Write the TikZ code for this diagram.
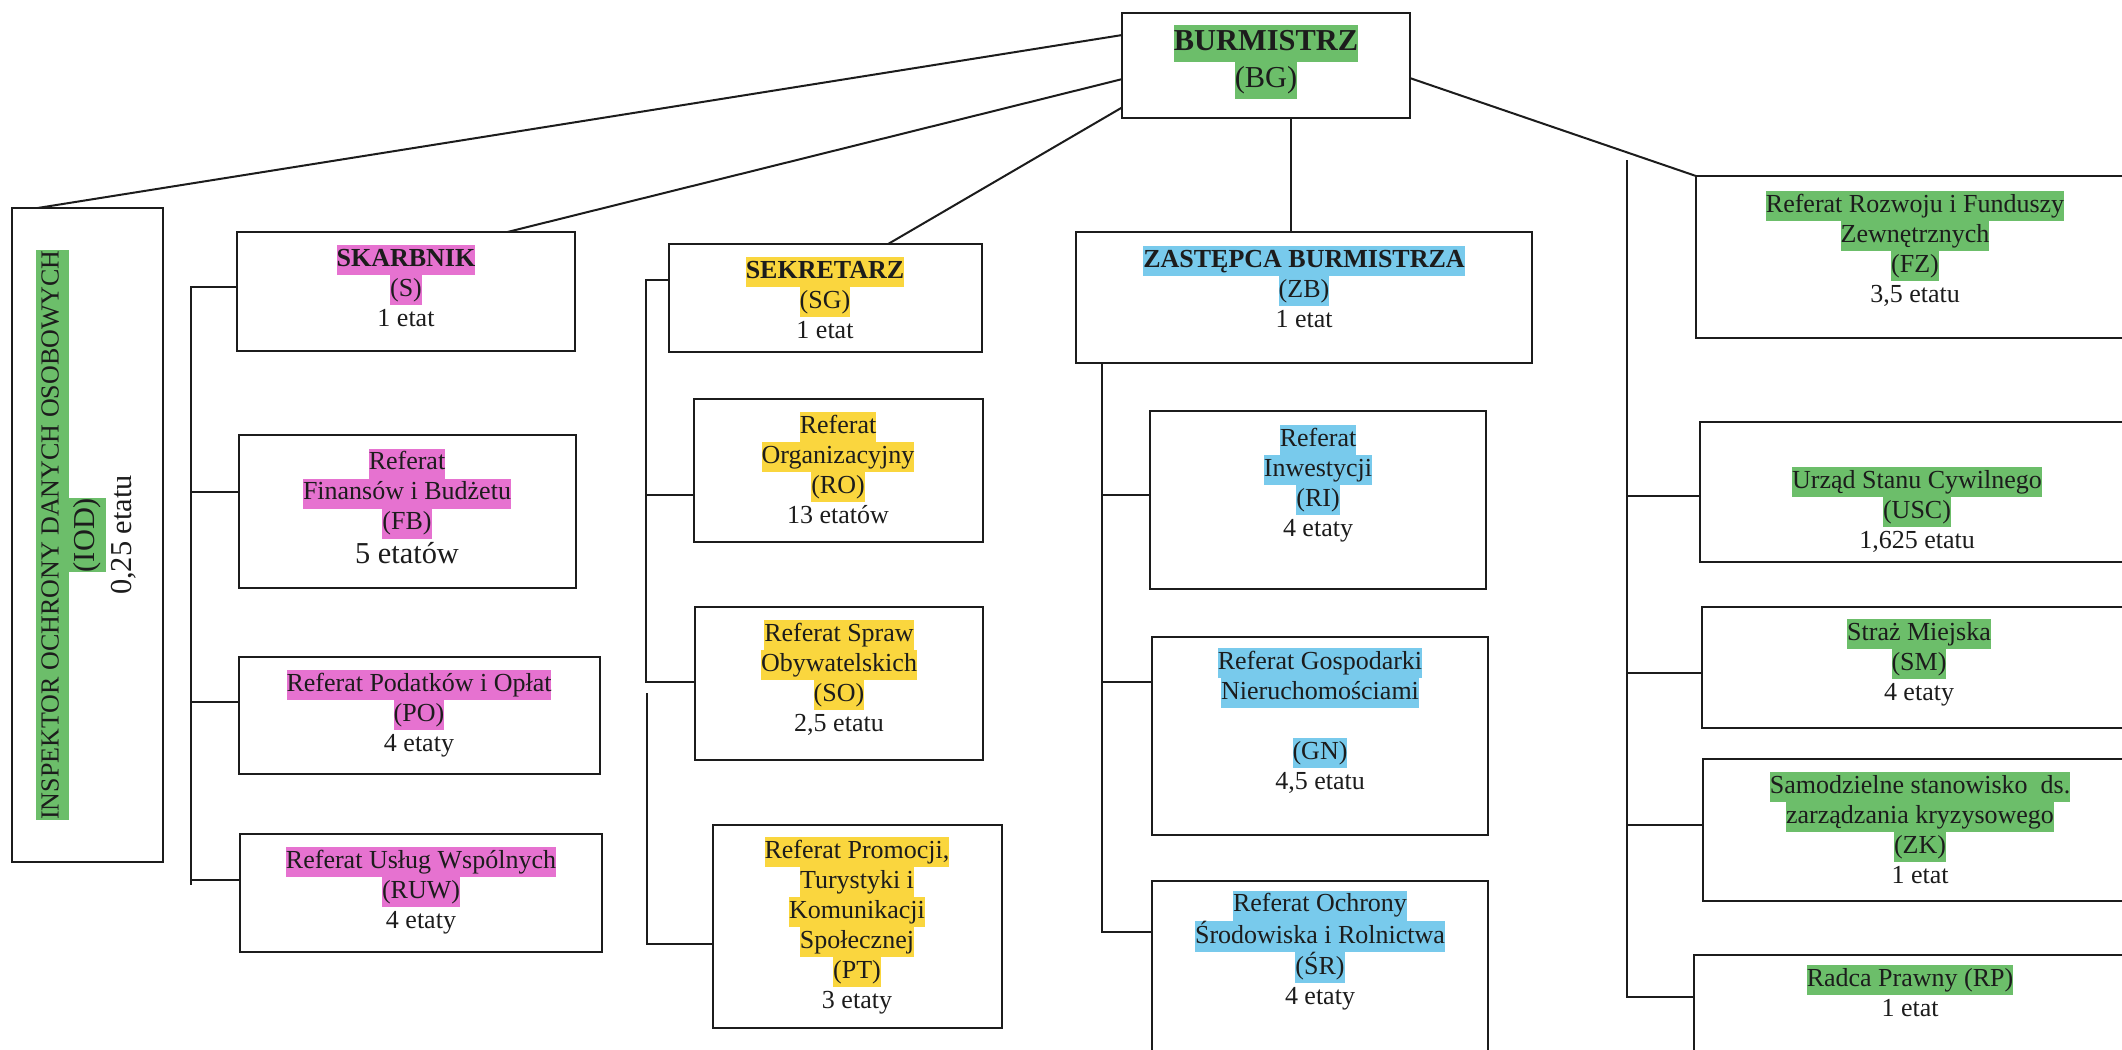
\documentclass[tikz,border=0pt]{standalone}
\usepackage{fontspec}
\setmainfont{Liberation Serif}
\usetikzlibrary{calc}
\definecolor{hgreen}{RGB}{108,190,106}
\definecolor{hpink}{RGB}{230,114,208}
\definecolor{hyellow}{RGB}{250,214,62}
\definecolor{hcyan}{RGB}{120,202,236}
\definecolor{ink}{RGB}{28,28,28}
\newcommand{\hlt}[2]{{\setlength{\fboxsep}{0pt}\colorbox{#1}{\strut #2}}}
\newcommand{\bx}[5]{\node[box, minimum width={#4-#2}, minimum height={#5-#3}] (#1) at ({(#2+#4)/2},{(#3+#5)/2}) {};}
\tikzset{
  box/.style={draw=ink, line width=2pt, rectangle, inner sep=0pt, outer sep=0pt},
  txt/.style={align=center, inner sep=0pt, text=ink, font={\fontsize{26}{30}\selectfont\lineskip=0pt}},
  con/.style={draw=ink, line width=2pt}
}
\begin{document}
\begin{tikzpicture}[x=1pt,y=-1pt]
\useasboundingbox (0,0) rectangle (2122,1049);
\clip (0,0) rectangle (2122,1049);
\fill[white] (0,0) rectangle (2122,1049);

% boxes
\bx{BG}{1122}{13}{1410}{118}
\bx{IOD}{12}{208}{163}{862}
\bx{S}{237}{232}{575}{351}
\bx{FB}{239}{435}{576}{588}
\bx{PO}{239}{657}{600}{774}
\bx{RUW}{240}{834}{602}{952}
\bx{SG}{669}{244}{982}{352}
\bx{RO}{694}{399}{983}{542}
\bx{SO}{695}{607}{983}{760}
\bx{PT}{713}{825}{1002}{1028}
\bx{ZB}{1076}{232}{1532}{363}
\bx{RI}{1150}{411}{1486}{589}
\bx{GN}{1152}{637}{1488}{835}
\bx{SR}{1152}{881}{1488}{1110}
\bx{FZ}{1696}{176}{2140}{338}
\bx{USC}{1700}{422}{2140}{562}
\bx{SM}{1702}{607}{2140}{728}
\bx{ZK}{1703}{759}{2140}{901}
\bx{RP}{1694}{955}{2140}{1110}

% texts
\node[txt, font={\fontsize{30.4}{37}\selectfont\lineskip=0pt}] (tBG) at (1266,62) {\hlt{hgreen}{\textbf{BURMISTRZ}}\\\hlt{hgreen}{(BG)}};
\node[txt, rotate=90, font={\fontsize{26}{33}\selectfont\lineskip=0pt}] (tIOD) at (89,535) {\hlt{hgreen}{INSPEKTOR OCHRONY DANYCH OSOBOWYCH}\\{\fontsize{30.4}{37}\selectfont\hlt{hgreen}{(IOD)}}\\{\fontsize{30.4}{37}\selectfont\strut 0,25 etatu}};

\node[txt] (tS) at (406,290) {\hlt{hpink}{\textbf{SKARBNIK}}\\\hlt{hpink}{(S)}\\\strut 1 etat};
\node[txt] (tFB) at (407,511) {\hlt{hpink}{Referat}\\\hlt{hpink}{Finansów i Budżetu}\\\hlt{hpink}{(FB)}\\{\fontsize{30.4}{35}\selectfont\strut 5 etatów}};
\node[txt] (tPO) at (419,715) {\hlt{hpink}{Referat Podatków i Opłat}\\\hlt{hpink}{(PO)}\\\strut 4 etaty};
\node[txt] (tRUW) at (421,892) {\hlt{hpink}{Referat Usług Wspólnych}\\\hlt{hpink}{(RUW)}\\\strut 4 etaty};

\node[txt] (tSG) at (825,302) {\hlt{hyellow}{\textbf{SEKRETARZ}}\\\hlt{hyellow}{(SG)}\\\strut 1 etat};
\node[txt] (tRO) at (838,472) {\hlt{hyellow}{Referat}\\\hlt{hyellow}{Organizacyjny}\\\hlt{hyellow}{(RO)}\\\strut 13 etatów};
\node[txt] (tSO) at (839,680) {\hlt{hyellow}{Referat Spraw}\\\hlt{hyellow}{Obywatelskich}\\\hlt{hyellow}{(SO)}\\\strut 2,5 etatu};
\node[txt] (tPT) at (857,927) {\hlt{hyellow}{Referat Promocji,}\\\hlt{hyellow}{Turystyki i}\\\hlt{hyellow}{Komunikacji}\\\hlt{hyellow}{Społecznej}\\\hlt{hyellow}{(PT)}\\\strut 3 etaty};

\node[txt] (tZB) at (1304,291) {\hlt{hcyan}{\textbf{ZASTĘPCA BURMISTRZA}}\\\hlt{hcyan}{(ZB)}\\\strut 1 etat};
\node[txt] (tRI) at (1318,485) {\hlt{hcyan}{Referat}\\\hlt{hcyan}{Inwestycji}\\\hlt{hcyan}{(RI)}\\\strut 4 etaty};
\node[txt] (tGN) at (1320,723) {\hlt{hcyan}{Referat Gospodarki}\\\hlt{hcyan}{Nieruchomościami}\\\strut\\\hlt{hcyan}{(GN)}\\\strut 4,5 etatu};
\node[txt] (tSR) at (1320,952) {\hlt{hcyan}{Referat Ochrony}\\\hlt{hcyan}{Środowiska i Rolnictwa}\\\hlt{hcyan}{(ŚR)}\\\strut 4 etaty};

\node[txt] (tFZ) at (1915,251) {\hlt{hgreen}{Referat Rozwoju i Funduszy}\\\hlt{hgreen}{Zewnętrznych}\\\hlt{hgreen}{(FZ)}\\\strut 3,5 etatu};
\node[txt] (tUSC) at (1917,512) {\hlt{hgreen}{Urząd Stanu Cywilnego}\\\hlt{hgreen}{(USC)}\\\strut 1,625 etatu};
\node[txt] (tSM) at (1919,664) {\hlt{hgreen}{Straż Miejska}\\\hlt{hgreen}{(SM)}\\\strut 4 etaty};
\node[txt] (tZK) at (1920,832) {\hlt{hgreen}{Samodzielne stanowisko~ ds.}\\\hlt{hgreen}{zarządzania kryzysowego}\\\hlt{hgreen}{(ZK)}\\\strut 1 etat};
\node[txt] (tRP) at (1910,995) {\hlt{hgreen}{Radca Prawny (RP)}\\\strut 1 etat};

% connectors from BG
\draw[con] ($(BG.north west)!0.21!(BG.south west)$) -- ($(IOD.north west)!0.17!(IOD.north east)$);
\draw[con] ($(BG.north west)!0.63!(BG.south west)$) -- ($(S.north west)!0.80!(S.north east)$);
\draw[con] ($(BG.north west)!0.90!(BG.south west)$) -- ($(SG.north west)!0.70!(SG.north east)$);
\draw[con] ($(BG.south west)!0.587!(BG.south east)$) coordinate (bgb) -- (bgb |- ZB.north);
\draw[con] ($(BG.north east)!0.62!(BG.south east)$) -- (FZ.north west);

% Skarbnik bracket
\coordinate (sA) at (191,287);
\coordinate (sB) at (191,492);
\coordinate (sC) at (191,702);
\coordinate (sD) at (191,880);
\coordinate (sE) at (191,885);
\draw[con] (sA -| S.west) -- (sA) -- (sE);
\draw[con] (sB) -- (sB -| FB.west);
\draw[con] (sC) -- (sC -| PO.west);
\draw[con] (sD) -- (sD -| RUW.west);

% Sekretarz bracket
\coordinate (gA) at (646,280);
\coordinate (gB) at (646,495);
\coordinate (gC) at (646,682);
\coordinate (gD) at (647,693);
\coordinate (gE) at (647,944);
\draw[con] (gA -| SG.west) -- (gA) -- (gC) -- (gC -| SO.west);
\draw[con] (gB) -- (gB -| RO.west);
\draw[con] (gD) -- (gE) -- (gE -| PT.west);

% Zastepca bracket
\coordinate (zA) at (1102,363);
\coordinate (zB) at (1102,495);
\coordinate (zC) at (1102,682);
\coordinate (zD) at (1102,932);
\draw[con] (zA) -- (zD) -- (zD -| SR.west);
\draw[con] (zB) -- (zB -| RI.west);
\draw[con] (zC) -- (zC -| GN.west);

% right bracket
\coordinate (rA) at (1627,160);
\coordinate (rB) at (1627,496);
\coordinate (rC) at (1627,673);
\coordinate (rD) at (1627,825);
\coordinate (rE) at (1627,997);
\draw[con] (rA) -- (rE) -- (rE -| RP.west);
\draw[con] (rB) -- (rB -| USC.west);
\draw[con] (rC) -- (rC -| SM.west);
\draw[con] (rD) -- (rD -| ZK.west);
\end{tikzpicture}
\end{document}
